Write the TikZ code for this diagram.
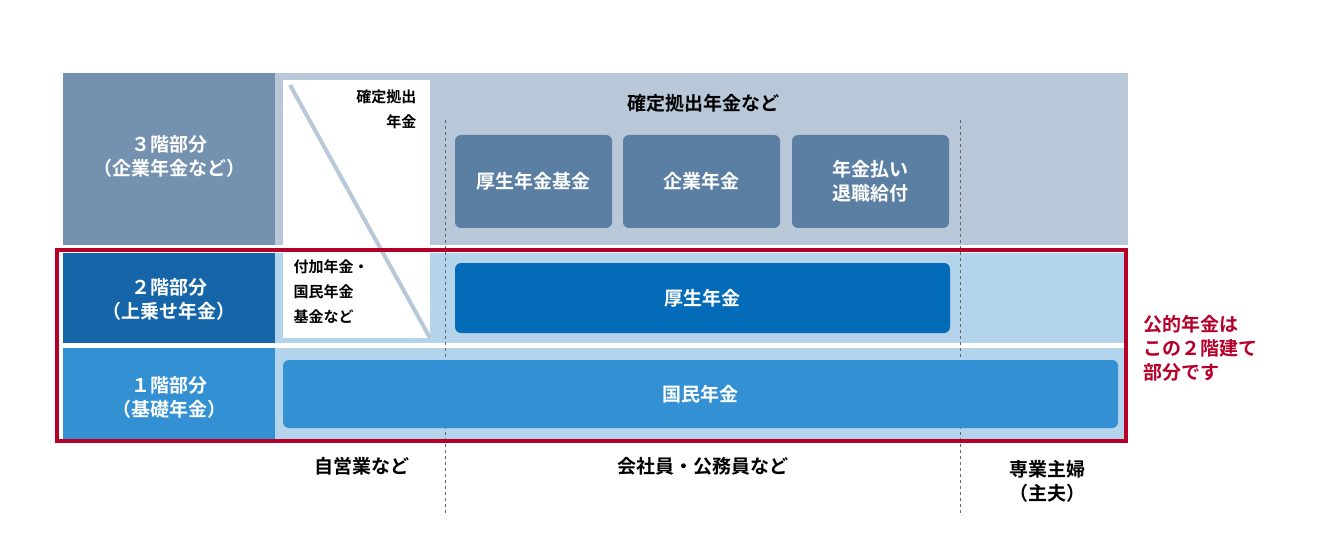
\documentclass[tikz,border=0pt]{standalone}
\usepackage{fontspec}
\setmainfont{Noto Sans CJK JP}[BoldFont={Noto Sans CJK JP Bold}]
\begin{document}
\begin{tikzpicture}[x=1pt,y=-1pt,
 txt/.style={font=\bfseries\fontsize{19}{24}\selectfont,align=center},
 sm/.style={font=\bfseries\fontsize{15}{25}\selectfont},
 wt/.style={txt,text=white},
 rbox/.style={rounded corners=6pt,draw=none},
 dashln/.style={dashed,draw=gray!80!black,line width=0.8pt}]
\definecolor{tthree}{HTML}{7591B0}\definecolor{bthree}{HTML}{B8C8D9}
\definecolor{ttwo}{HTML}{1565A8}\definecolor{lb}{HTML}{B3D4EA}
\definecolor{tone}{HTML}{3391D3}\definecolor{mb}{HTML}{5B7FA3}
\definecolor{kb}{HTML}{036BB7}\definecolor{rd}{HTML}{B5002A}
\useasboundingbox (0,0) rectangle (1340,537);
\fill[bthree] (63,73) rectangle (1128,245);
\fill[tthree] (63,73) rectangle (275,245);
\fill[lb] (63,253) rectangle (1128,343);
\fill[ttwo] (63,253) rectangle (275,343);
\fill[lb] (63,348) rectangle (1128,440);
\fill[tone] (63,348) rectangle (275,440);
\fill[white] (283,80) rectangle (430,338);
\coordinate (d1) at (290,85); \coordinate (d2) at (430,338);
\draw[bthree,line width=4pt] (d1) -- (d2);
\node[sm,anchor=north east,align=right] (kk) at (420,86) {確定拠出\\年金};
\node[sm,anchor=north west,align=left] (fk) at (290,256) {付加年金・\\国民年金\\基金など};
\coordinate (a1) at (445,120); \coordinate (a2) at (445,515);
\coordinate (b1) at (960,120); \coordinate (b2) at (960,515);
\draw[dashln] (a1) -- (a2); \draw[dashln] (b1) -- (b2);
\node[txt] (kt) at (703,103) {確定拠出年金など};
\node[wt,rbox,fill=mb,minimum width=157,minimum height=93] (k1) at (533.5,181.5) {厚生年金基金};
\node[wt,rbox,fill=mb,minimum width=157,minimum height=93] (k2) at (701.5,181.5) {企業年金};
\node[wt,rbox,fill=mb,minimum width=157,minimum height=93] (k3) at (870.5,181.5) {年金払い\\退職給付};
\node[wt,rbox,fill=kb,minimum width=495,minimum height=70] (kn) at (702.5,298) {厚生年金};
\node[wt,rbox,fill=tone,minimum width=835,minimum height=68] (kj) at (700.5,394) {国民年金};
\draw[rd,line width=4pt] (57,250) rectangle (1126,441);
\node[wt] (h3) at (169,156) {３階部分\\（企業年金など）};
\node[wt] (h2) at (169,299) {２階部分\\（上乗せ年金）};
\node[wt] (h1) at (169,397) {１階部分\\（基礎年金）};
\node[txt,text=rd,anchor=west,align=left] (red) at (1140,348) {公的年金は\\この２階建て\\部分です};
\node[txt] (l1) at (362,466) {自営業など};
\node[txt] (l2) at (703,466) {会社員・公務員など};
\node[txt] (l3) at (1047,481) {専業主婦\\（主夫）};
\end{tikzpicture}
\end{document}
